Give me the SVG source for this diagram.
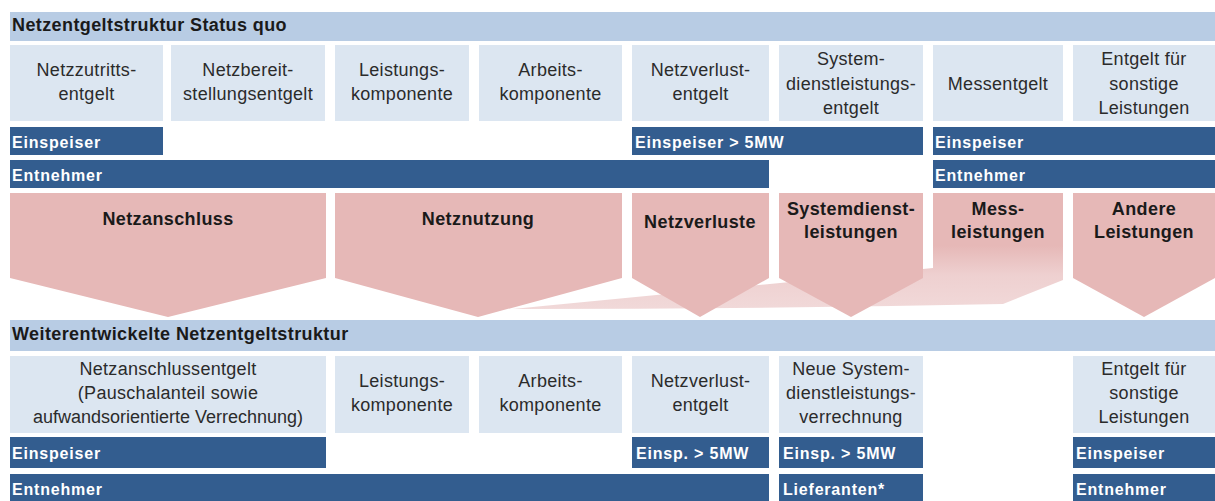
<svg xmlns="http://www.w3.org/2000/svg" width="1215" height="501" viewBox="0 0 1215 501">
<defs>
<style>
.hdr{fill:#b8cce4}
.cell{fill:#dce6f1}
.bar{fill:#335d8f}
.chev{fill:#e6b8b7}
.ht{font-family:"Liberation Sans",Arial,sans-serif;font-size:18px;font-weight:bold;fill:#1a1a1a;letter-spacing:0.4px}
.ct{font-family:"Liberation Sans",Arial,sans-serif;font-size:18px;fill:#2b2b2b;text-anchor:middle;letter-spacing:0.3px}
.bt{font-family:"Liberation Sans",Arial,sans-serif;font-size:16px;font-weight:bold;fill:#ffffff;letter-spacing:0.8px}
.pt{font-family:"Liberation Sans",Arial,sans-serif;font-size:18px;font-weight:bold;fill:#1a1a1a;text-anchor:middle;letter-spacing:0.4px}
</style>
<linearGradient id="messGrad" gradientUnits="userSpaceOnUse" x1="0" y1="193" x2="0" y2="310">
<stop offset="0" stop-color="#e6b8b7"/>
<stop offset="0.45" stop-color="#e6b8b7"/>
<stop offset="0.7" stop-color="#eed0d0"/>
<stop offset="1" stop-color="#f1d9d9"/>
</linearGradient>
</defs>
<rect width="1215" height="501" fill="#ffffff"/>

<!-- Status quo section -->
<g id="header-top">
<rect class="hdr" x="10" y="12" width="1205" height="29"/>
<text class="ht" x="12" y="31">Netzentgeltstruktur Status quo</text>
</g>

<g id="cell-netzzutritt">
<rect class="cell" x="10" y="45" width="153" height="76"/>
<text class="ct" x="86.5" y="76">Netzzutritts-</text>
<text class="ct" x="86.5" y="100">entgelt</text>
</g>
<g id="cell-netzbereit">
<rect class="cell" x="171" y="45" width="154" height="76"/>
<text class="ct" x="248" y="76">Netzbereit-</text>
<text class="ct" x="248" y="100">stellungsentgelt</text>
</g>
<g id="cell-leistung-top">
<rect class="cell" x="335" y="45" width="134" height="76"/>
<text class="ct" x="402" y="76">Leistungs-</text>
<text class="ct" x="402" y="100">komponente</text>
</g>
<g id="cell-arbeit-top">
<rect class="cell" x="479" y="45" width="143" height="76"/>
<text class="ct" x="550.5" y="76">Arbeits-</text>
<text class="ct" x="550.5" y="100">komponente</text>
</g>
<g id="cell-netzverlust-top">
<rect class="cell" x="632" y="45" width="137" height="76"/>
<text class="ct" x="700.5" y="76">Netzverlust-</text>
<text class="ct" x="700.5" y="100">entgelt</text>
</g>
<g id="cell-sdl-top">
<rect class="cell" x="779" y="45" width="144" height="76"/>
<text class="ct" x="851" y="65">System-</text>
<text class="ct" x="851" y="90">dienstleistungs-</text>
<text class="ct" x="851" y="114">entgelt</text>
</g>
<g id="cell-mess">
<rect class="cell" x="933" y="45" width="130" height="76"/>
<text class="ct" x="998" y="90">Messentgelt</text>
</g>
<g id="cell-sonstige-top">
<rect class="cell" x="1073" y="45" width="142" height="76"/>
<text class="ct" x="1144" y="65">Entgelt für</text>
<text class="ct" x="1144" y="90">sonstige</text>
<text class="ct" x="1144" y="114">Leistungen</text>
</g>

<g id="bars-top">
<rect class="bar" x="10" y="127" width="153" height="28"/>
<text class="bt" x="12" y="148">Einspeiser</text>
<rect class="bar" x="632" y="127" width="291" height="28"/>
<text class="bt" x="635" y="148">Einspeiser &gt; 5MW</text>
<rect class="bar" x="933" y="127" width="282" height="28"/>
<text class="bt" x="935" y="148">Einspeiser</text>
<rect class="bar" x="10" y="160" width="759" height="28"/>
<text class="bt" x="12" y="181">Entnehmer</text>
<rect class="bar" x="933" y="160" width="282" height="28"/>
<text class="bt" x="935" y="181">Entnehmer</text>
</g>

<!-- Chevrons -->
<g id="chev-mess">
<path d="M933,193 H1063 V280 L1003,304 Q760,309 513,309 Q700,291 933,268 Z" fill="url(#messGrad)"/>
<text class="pt" x="998" y="215">Mess-</text>
<text class="pt" x="998" y="238">leistungen</text>
</g>
<g id="chev-netzanschluss">
<path class="chev" d="M10,193 H326 V278 L168,317 L10,278 Z"/>
<text class="pt" x="168" y="225">Netzanschluss</text>
</g>
<g id="chev-netznutzung">
<path class="chev" d="M335,193 H622 V278 L478,317 L335,278 Z"/>
<text class="pt" x="478" y="225">Netznutzung</text>
</g>
<g id="chev-netzverluste">
<path class="chev" d="M632,193 H769 V278 L700,317 L632,278 Z"/>
<text class="pt" x="700" y="228">Netzverluste</text>
</g>
<g id="chev-sdl">
<path class="chev" d="M779,193 H923 V278 L851,317 L779,278 Z"/>
<text class="pt" x="851" y="215">Systemdienst-</text>
<text class="pt" x="851" y="238">leistungen</text>
</g>
<g id="chev-andere">
<path class="chev" d="M1073,193 H1215 V278 L1144,317 L1073,278 Z"/>
<text class="pt" x="1144" y="215">Andere</text>
<text class="pt" x="1144" y="238">Leistungen</text>
</g>

<!-- Weiterentwickelte section -->
<g id="header-bottom">
<rect class="hdr" x="10" y="320" width="1205" height="31"/>
<text class="ht" x="12" y="340">Weiterentwickelte Netzentgeltstruktur</text>
</g>

<g id="cell-netzanschlussentgelt">
<rect class="cell" x="10" y="356" width="316" height="77"/>
<text class="ct" x="168" y="375">Netzanschlussentgelt</text>
<text class="ct" x="168" y="399">(Pauschalanteil sowie</text>
<text class="ct" x="168" y="423" style="letter-spacing:0">aufwandsorientierte Verrechnung)</text>
</g>
<g id="cell-leistung-bottom">
<rect class="cell" x="335" y="356" width="134" height="77"/>
<text class="ct" x="402" y="387">Leistungs-</text>
<text class="ct" x="402" y="411">komponente</text>
</g>
<g id="cell-arbeit-bottom">
<rect class="cell" x="479" y="356" width="143" height="77"/>
<text class="ct" x="550.5" y="387">Arbeits-</text>
<text class="ct" x="550.5" y="411">komponente</text>
</g>
<g id="cell-netzverlust-bottom">
<rect class="cell" x="632" y="356" width="137" height="77"/>
<text class="ct" x="700.5" y="387">Netzverlust-</text>
<text class="ct" x="700.5" y="411">entgelt</text>
</g>
<g id="cell-sdl-bottom">
<rect class="cell" x="779" y="356" width="144" height="77"/>
<text class="ct" x="851" y="375">Neue System-</text>
<text class="ct" x="851" y="399">dienstleistungs-</text>
<text class="ct" x="851" y="423">verrechnung</text>
</g>
<g id="cell-sonstige-bottom">
<rect class="cell" x="1073" y="356" width="142" height="77"/>
<text class="ct" x="1144" y="375">Entgelt für</text>
<text class="ct" x="1144" y="399">sonstige</text>
<text class="ct" x="1144" y="423">Leistungen</text>
</g>

<g id="bars-bottom">
<rect class="bar" x="10" y="437" width="316" height="31"/>
<text class="bt" x="12" y="459">Einspeiser</text>
<rect class="bar" x="632" y="437" width="137" height="31"/>
<text class="bt" x="636" y="459">Einsp. &gt; 5MW</text>
<rect class="bar" x="779" y="437" width="144" height="31"/>
<text class="bt" x="783" y="459">Einsp. &gt; 5MW</text>
<rect class="bar" x="1073" y="437" width="142" height="31"/>
<text class="bt" x="1076" y="459">Einspeiser</text>
<rect class="bar" x="10" y="474" width="759" height="30"/>
<text class="bt" x="12" y="495">Entnehmer</text>
<rect class="bar" x="779" y="474" width="144" height="30"/>
<text class="bt" x="783" y="495">Lieferanten*</text>
<rect class="bar" x="1073" y="474" width="142" height="30"/>
<text class="bt" x="1076" y="495">Entnehmer</text>
</g>
</svg>
